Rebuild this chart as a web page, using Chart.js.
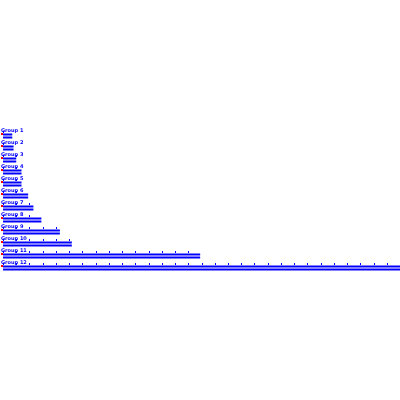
<!DOCTYPE html>
<html>
<head>
<meta charset="utf-8">
<script src="https://cdn.jsdelivr.net/npm/chart.js@4"></script>
<style>
  html, body { margin: 0; padding: 0; background: #fff; }
  #wrap { width: 400px; height: 400px; }
</style>
</head>
<body>
<div id="wrap"><canvas id="chart" width="400" height="400"></canvas></div>
<script>
// categories (top to bottom) and their values
const categories = ["Group 1", "Group 2", "Group 3", "Group 4", "Group 5", "Group 6",
                    "Group 7", "Group 8", "Group 9", "Group 10", "Group 11", "Group 12"];
const values = [7, 8, 10, 14, 14, 19, 23, 29, 43, 52, 149, 300];

// value axis
const axisMin = 0;
const axisMax = 300;
const axisStep = 10;

const BLUE = "#0000ff";
const RED = "#ff0000";

// draws the little label above each row, the red start mark and the tick marks along each row
const rowDecor = {
  id: "rowDecor",
  afterDatasetsDraw(chart) {
    const ctx = chart.ctx;
    const x = chart.scales.x;
    const y = chart.scales.y;
    ctx.save();
    categories.forEach((cat, i) => {
      const cy = y.getPixelForValue(i);
      // label
      ctx.fillStyle = BLUE;
      ctx.font = "bold 5px 'DejaVu Sans'";
      ctx.textBaseline = "bottom";
      ctx.textAlign = "left";
      ctx.fillText(cat, 1, cy - 3);
      // red start mark
      ctx.fillStyle = RED;
      ctx.fillRect(x.left - 2, cy - 3, 2, 2);
      // ticks along the row
      ctx.fillStyle = BLUE;
      x.ticks.forEach(t => {
        if (t.value <= values[i]) {
          const px = Math.round(x.getPixelForValue(t.value));
          ctx.fillRect(px, cy - 5, 1, 2);
        }
      });
    });
    ctx.restore();
  }
};

new Chart(document.getElementById("chart"), {
  type: "bar",
  data: {
    labels: categories,
    datasets: [
      { label: "line", data: values, backgroundColor: BLUE, barPercentage: 0.67, categoryPercentage: 0.5 },
      { label: "bar", data: values, backgroundColor: BLUE, barPercentage: 0.67, categoryPercentage: 0.5 }
    ]
  },
  options: {
    indexAxis: "y",
    responsive: false,
    animation: false,
    layout: { padding: { left: 3, right: 0, top: 130, bottom: 126 } },
    plugins: { legend: { display: false }, tooltip: { enabled: false } },
    scales: {
      x: {
        display: false,
        min: axisMin, max: axisMax,
        ticks: { stepSize: axisStep, autoSkip: false }
      },
      y: { display: false }
    }
  },
  plugins: [rowDecor]
});
</script>
</body>
</html>
